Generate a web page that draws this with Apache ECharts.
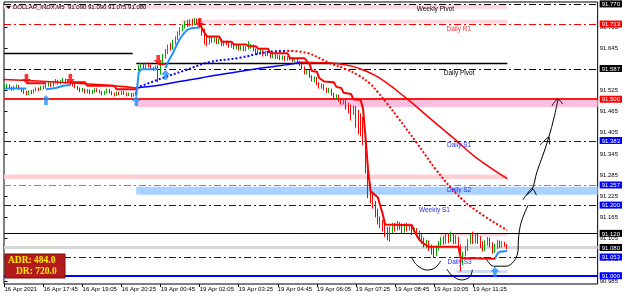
<!DOCTYPE html>
<html><head><meta charset="utf-8">
<script src="https://cdn.jsdelivr.net/npm/echarts@6/dist/echarts.min.js"></script>
<style>html,body{margin:0;padding:0;background:#fff}#c{width:625px;height:298px}</style>
</head><body><div id="c"></div>
<script>
// ---------------- DATA ----------------
const timeLabels = ['16 Apr 2021','16 Apr 17:45','16 Apr 19:05','16 Apr 20:25','19 Apr 00:45','19 Apr 02:05','19 Apr 03:25','19 Apr 04:45','19 Apr 06:05','19 Apr 07:25','19 Apr 08:45','19 Apr 10:05','19 Apr 11:25'];
const timeLabelBars = [0,16,32,48,64,80,96,112,128,144,160,176,192];
const priceTicks = [90.985,91.045,91.105,91.165,91.225,91.285,91.345,91.405,91.465,91.525,91.585,91.645,91.705];
const headerText = 'DOLLAR_INDX,M5  91.090 91.090 91.075 91.080';
const adrText = ['ADR: 484.0','DR: 720.0'];

// candles: [open, close, low, high], one per 5-minute bar
const candles = [
[91.532,91.535,91.528,91.540],[91.535,91.540,91.531,91.544],[91.540,91.532,91.529,91.542],[91.532,91.528,91.524,91.536],
[91.528,91.535,91.525,91.538],[91.535,91.538,91.530,91.542],[91.538,91.530,91.527,91.540],[91.530,91.525,91.520,91.533],
[91.525,91.520,91.515,91.528],[91.520,91.515,91.511,91.524],[91.515,91.522,91.512,91.525],[91.522,91.518,91.514,91.526],
[91.518,91.525,91.516,91.529],[91.525,91.530,91.522,91.534],[91.530,91.527,91.523,91.533],[91.527,91.535,91.525,91.538],
[91.535,91.532,91.528,91.539],[91.532,91.540,91.530,91.544],[91.540,91.545,91.536,91.549],[91.545,91.538,91.535,91.548],
[91.538,91.548,91.536,91.552],[91.548,91.552,91.544,91.557],[91.552,91.545,91.541,91.555],[91.545,91.550,91.542,91.554],
[91.550,91.555,91.546,91.560],[91.555,91.548,91.544,91.558],[91.548,91.552,91.545,91.556],[91.552,91.545,91.540,91.554],
[91.545,91.540,91.536,91.548],[91.540,91.535,91.531,91.543],[91.535,91.530,91.526,91.538],[91.530,91.525,91.520,91.533],
[91.525,91.528,91.521,91.532],[91.528,91.520,91.516,91.530],[91.520,91.525,91.517,91.529],[91.525,91.518,91.514,91.528],
[91.518,91.522,91.515,91.526],[91.522,91.528,91.519,91.532],[91.528,91.524,91.520,91.531],[91.524,91.520,91.516,91.527],
[91.520,91.515,91.511,91.523],[91.515,91.520,91.512,91.524],[91.520,91.526,91.517,91.530],[91.526,91.520,91.516,91.529],
[91.520,91.515,91.511,91.523],[91.515,91.512,91.508,91.519],[91.512,91.518,91.509,91.522],[91.518,91.515,91.511,91.521],
[91.515,91.520,91.512,91.524],[91.520,91.516,91.512,91.523],[91.516,91.512,91.508,91.519],[91.512,91.515,91.509,91.519],
[91.515,91.510,91.506,91.518],[91.510,91.514,91.507,91.518],[91.514,91.518,91.510,91.522],
[91.585,91.592,91.580,91.597],[91.592,91.598,91.588,91.603],[91.598,91.590,91.586,91.602],[91.590,91.600,91.587,91.604],
[91.600,91.595,91.590,91.604],[91.595,91.588,91.584,91.599],[91.588,91.585,91.580,91.592],[91.585,91.592,91.582,91.596],
[91.592,91.575,91.548,91.596],[91.575,91.600,91.570,91.605],[91.600,91.620,91.595,91.628],[91.620,91.635,91.615,91.642],
[91.635,91.650,91.628,91.655],[91.650,91.645,91.638,91.660],[91.645,91.662,91.640,91.668],[91.662,91.672,91.655,91.678],
[91.672,91.685,91.668,91.692],[91.685,91.698,91.680,91.704],[91.698,91.705,91.692,91.712],[91.705,91.715,91.700,91.722],
[91.715,91.710,91.704,91.724],[91.710,91.720,91.706,91.727],[91.720,91.715,91.708,91.728],[91.715,91.722,91.710,91.730],
[91.722,91.718,91.712,91.728],[91.718,91.712,91.705,91.726],[91.712,91.695,91.680,91.716],[91.695,91.670,91.655,91.700],
[91.670,91.660,91.650,91.676],
[91.660,91.672,91.655,91.678],[91.672,91.665,91.660,91.679],[91.665,91.672,91.661,91.677],[91.672,91.660,91.656,91.675],
[91.660,91.668,91.656,91.672],[91.668,91.655,91.650,91.671],[91.655,91.662,91.651,91.666],[91.662,91.658,91.653,91.666],
[91.658,91.650,91.646,91.662],[91.650,91.655,91.646,91.659],[91.655,91.645,91.641,91.658],[91.645,91.650,91.641,91.654],
[91.650,91.642,91.638,91.653],[91.642,91.648,91.638,91.652],[91.648,91.640,91.636,91.651],[91.640,91.645,91.636,91.650],
[91.645,91.648,91.641,91.665],[91.648,91.652,91.643,91.657],[91.652,91.640,91.636,91.655],[91.640,91.635,91.630,91.644],
[91.635,91.630,91.626,91.639],[91.630,91.638,91.627,91.642],[91.638,91.625,91.621,91.641],[91.625,91.632,91.622,91.636],
[91.632,91.628,91.623,91.636],[91.628,91.620,91.616,91.631],[91.620,91.625,91.616,91.629],[91.625,91.618,91.614,91.628],
[91.618,91.622,91.614,91.626],[91.622,91.615,91.611,91.625],[91.615,91.620,91.611,91.624],[91.620,91.612,91.608,91.623],
[91.612,91.618,91.609,91.622],[91.618,91.615,91.610,91.621],[91.615,91.610,91.606,91.619],[91.610,91.612,91.606,91.616],
[91.612,91.605,91.600,91.615],[91.605,91.598,91.593,91.608],[91.598,91.590,91.585,91.601],[91.590,91.575,91.570,91.593],
[91.575,91.580,91.570,91.585],[91.580,91.565,91.560,91.583],[91.565,91.555,91.550,91.568],[91.555,91.560,91.548,91.565],
[91.560,91.545,91.540,91.563],[91.545,91.535,91.530,91.548],[91.535,91.540,91.530,91.545],[91.540,91.530,91.525,91.543],
[91.530,91.522,91.518,91.533],[91.522,91.528,91.518,91.532],[91.528,91.515,91.510,91.530],[91.515,91.505,91.500,91.518],
[91.505,91.510,91.500,91.514],[91.510,91.498,91.493,91.513],[91.498,91.490,91.485,91.501],[91.490,91.495,91.485,91.499],
[91.495,91.485,91.470,91.500],[91.485,91.478,91.460,91.490],[91.478,91.470,91.440,91.485],[91.470,91.475,91.455,91.482],
[91.475,91.455,91.420,91.480],[91.455,91.445,91.400,91.470],[91.445,91.440,91.395,91.460],[91.440,91.380,91.370,91.450],
[91.380,91.300,91.290,91.390],[91.300,91.240,91.220,91.310],[91.240,91.225,91.205,91.262],[91.225,91.205,91.190,91.235],
[91.205,91.180,91.165,91.212],[91.180,91.160,91.145,91.190],[91.160,91.150,91.135,91.168],[91.150,91.140,91.125,91.158],
[91.140,91.130,91.110,91.150],[91.130,91.120,91.100,91.138],[91.120,91.130,91.096,91.140],[91.130,91.140,91.120,91.150],
[91.140,91.135,91.125,91.150],[91.135,91.145,91.128,91.155],[91.145,91.140,91.130,91.152],[91.140,91.130,91.120,91.148],
[91.130,91.140,91.122,91.148],[91.140,91.135,91.125,91.150],[91.135,91.140,91.128,91.148],[91.140,91.125,91.115,91.145],
[91.125,91.130,91.118,91.136],[91.130,91.120,91.110,91.135],
[91.120,91.110,91.100,91.128],[91.110,91.100,91.090,91.118],[91.100,91.090,91.080,91.108],[91.090,91.095,91.078,91.102],
[91.095,91.080,91.070,91.100],[91.080,91.070,91.060,91.088],[91.070,91.060,91.050,91.078],[91.060,91.078,91.055,91.085],
[91.078,91.090,91.072,91.098],[91.090,91.100,91.085,91.110],[91.100,91.095,91.088,91.112],[91.095,91.108,91.090,91.118],
[91.108,91.100,91.092,91.120],[91.100,91.110,91.095,91.125],[91.110,91.098,91.090,91.118],[91.098,91.105,91.090,91.115],
[91.105,91.085,91.078,91.110],[91.085,91.040,91.012,91.088],[91.040,91.060,91.030,91.068],[91.060,91.075,91.055,91.085],
[91.075,91.095,91.070,91.105],[91.095,91.105,91.090,91.118],[91.105,91.098,91.090,91.125],[91.098,91.110,91.092,91.120],
[91.110,91.100,91.090,91.118],[91.100,91.085,91.078,91.112],[91.085,91.075,91.068,91.098],[91.075,91.090,91.070,91.100],
[91.090,91.102,91.085,91.110],[91.102,91.088,91.080,91.108],[91.088,91.070,91.062,91.095],[91.070,91.082,91.065,91.090],
[91.082,91.095,91.076,91.102],[91.095,91.085,91.078,91.100],[91.085,91.092,91.080,91.098],[91.092,91.090,91.082,91.096],
[91.090,91.080,91.075,91.090]
];

// trend line (step indicator), [bar, price]; null breaks the line
const trendUp = [[0,91.530],[9,91.530],null,[17,91.528],[21,91.532],[24,91.538],[27,91.540],null,
 [54,91.508],[55,91.575],[56,91.585],[63,91.585],null,
 [66,91.588],[67,91.605],[68,91.618],[69,91.630],[70,91.645],[71,91.660],[72,91.672],[73,91.682],[74,91.690],[75,91.697],[77,91.702],[80,91.703],null,
 [201,91.048],[202,91.062],[203,91.068],[206,91.070]];
const trendDown = [[9,91.545],[17,91.545],null,
 [27,91.548],[33,91.548],[34,91.538],[45,91.538],[46,91.528],[54,91.528],null,
 [63,91.600],[66,91.600],null,
 [80,91.715],[81,91.700],[82,91.688],[83,91.678],[88,91.678],[89,91.663],[93,91.663],[94,91.655],[99,91.655],[100,91.650],[103,91.650],
 [104,91.643],[108,91.643],[109,91.630],[116,91.630],[117,91.616],[123,91.616],[124,91.607],[125,91.600],[126,91.580],[128,91.578],
 [129,91.560],[131,91.550],[135,91.548],[136,91.535],[138,91.532],[139,91.518],[142,91.515],[143,91.500],[146,91.498],[147,91.470],
 [148,91.390],[149,91.300],[150,91.240],[153,91.222],[155,91.175],[156,91.145],[167,91.143],[168,91.125],[170,91.102],[172,91.090],
 [174,91.082],[186,91.082],[187,91.050],[201,91.048]];

// moving averages, [bar, price]
const maSlowDown1 = [[-1,91.556],[15,91.551],[30,91.545],[45,91.538],[54,91.532]];
const maSlowUp = [[54,91.532],[62,91.538],[70,91.548],[78,91.557],[84,91.565],[95,91.577],[107,91.590],[116,91.598],[121,91.605]];
const maSlowDown2 = [[121,91.605],[132,91.603],[140,91.597],[145,91.588],[153,91.563],[165,91.501],[175,91.442],[185,91.384],[193,91.336],[206,91.275]];
const maFastUp = [[54,91.532],[64,91.558],[74,91.582],[84,91.605],[96,91.617],[108,91.634],[116,91.637]];
const maFastDown = [[116,91.637],[124,91.631],[134,91.600],[140,91.585],[145,91.568],[150,91.543],[153,91.520],[157,91.486],[161,91.450],[169,91.376],[177,91.299],[185,91.234],[193,91.186],[206,91.129]];

// signal arrows [bar, price]
const arrowsDown = [[9,91.557],[27,91.557],[63,91.611],[80,91.716]];
const arrowsUp = [[17,91.498],[54,91.495],[66,91.569],[201,91.011]];

// horizontal levels: price, from bar, to bar (null = chart edge)
const levelPrices = [91.770,91.713,91.631,91.603,91.587,91.500,91.383,91.257,91.200,91.120,91.080,91.053,91.000];
const levelFrom   = [null,null,null,54,null,null,null,null,null,null,null,null,null];
const levelTo     = [null,null,52.5,206.1,null,null,null,null,null,null,null,null,null];
const levelNames  = ['Weekly Pivot','Daily R1','','','Daily Pivot','','Daily S1','Daily S2','Weekly S1','','','Daily S3',''];
const levelNameBar= [176.6,186.2,0,0,186.3,0,186.3,186.3,176.2,0,0,186.5,0];
// price boxes on the axis
const boxPrices = [91.770,91.713,91.587,91.500,91.383,91.257,91.200,91.120,91.080,91.053,91.000];

// zones: [fromBar, toBar(null=edge), lowPrice, highPrice]
const zones = [
 [-1,206.1,91.756,91.768],
 [72.6,206.1,91.715,91.725],
 [54,null,91.478,91.498],
 [-1,206.1,91.274,91.287],
 [54,null,91.229,91.252],
 [178.4,206.1,91.112,91.121],
 [185.3,206.1,91.008,91.016]
];

// hand drawn strokes [bar, price]
const drawings = [
 [[167.0,91.050],[169.0,91.030],[173.1,91.016],[176.4,91.022],[178.8,91.042]],
 [[181.2,91.019],[183.7,90.999],[187.3,90.988],[190.6,90.996],[191.8,91.017]],
 [[197.5,91.047],[200.4,91.027],[205.7,91.027],[208.9,91.042],[210.5,91.073],[210.6,91.101],[211.8,91.152],[214.6,91.200]],
 [[212.5,91.215],[213.8,91.228],[216.2,91.243],[218.2,91.294],[220.7,91.342],[223.1,91.393],[225.2,91.447],[226.8,91.498]],
 [[214.0,91.228],[216.2,91.247],[218.0,91.228]],
 [[219.5,91.370],[223.1,91.393],[223.4,91.372]],
 [[224.4,91.481],[226.8,91.500],[228.8,91.486]]
];

// ---------------- STYLE ----------------
const X_MIN = -0.2, X_MAX = 243.1, Y_MIN = 90.9765, Y_MAX = 91.7754;
const FONT = '"Liberation Sans", Arial, sans-serif';
const DASHDOT = [7,3,2,3];
const levelStyles = [
 {c:'#000000',w:1,d:DASHDOT},{c:'#ff0000',w:1,d:DASHDOT},{c:'#000000',w:1.5,d:null},{c:'#000000',w:1.5,d:null},
 {c:'#000000',w:1,d:DASHDOT},{c:'#ff1a1a',w:2,d:null},{c:'#0000ff',w:1,d:DASHDOT},{c:'#7a7aff',w:1,d:DASHDOT},
 {c:'#0000ff',w:1,d:DASHDOT},{c:'#000000',w:1,d:null},{c:'#d6d6d6',w:3,d:null},{c:'#0000ff',w:1,d:DASHDOT},{c:'#0000ff',w:2,d:null}
];
const levelTextColors = ['#000','#ff3030','','','#000','','#2a2aff','#2a2aff','#2a2aff','','','#2a2aff',''];
const boxKinds = ['k','r','k','r','b','b','b','k','k','b','b'];
const zoneColors = ['#ffd6dc','#ffd6dc','#ffbfe0','#ffcfd6','#a8d2ff','#ffd6dc','#cfdcf2'];

const chart = echarts.init(document.getElementById('c'), null, {renderer:'canvas'});

function lineSeries(data, color, width, dash, z, smooth){
  return {type:'line', data:data.map(p=>p?p:[null,null]), showSymbol:false, symbol:'none', smooth:smooth||0,
    connectNulls:false, z:z, animation:false, clip:true,
    lineStyle:{color:color, width:width, type:dash||'solid', cap:'butt'}};
}

const candleData = candles.map((r,i)=>[i,r[0],r[1],r[2],r[3]]);

const rich = {
  k:{backgroundColor:'#000',color:'#fff',padding:[1,2,0,2],fontSize:6,fontFamily:FONT,lineHeight:8},
  r:{backgroundColor:'#ff0000',color:'#fff',padding:[1,2,0,2],fontSize:6,fontFamily:FONT,lineHeight:8},
  b:{backgroundColor:'#0000ff',color:'#fff',padding:[1,2,0,2],fontSize:6,fontFamily:FONT,lineHeight:8}
};

const series = [
  {type:'custom', z:1, animation:false, clip:true, data:zones.map(z=>[z[0], z[1]==null?X_MAX:z[1], z[2], z[3]]),
   renderItem:(p,api)=>{
     const a=api.coord([api.value(0),api.value(3)]), b=api.coord([api.value(1),api.value(2)]);
     return {type:'rect', shape:{x:a[0],y:a[1],width:b[0]-a[0],height:b[1]-a[1]}, style:{fill:zoneColors[p.dataIndex]}};
   }},
  {type:'custom', z:2, animation:false, clip:true,
   data:levelPrices.map((v,i)=>[levelFrom[i]==null?X_MIN:levelFrom[i], levelTo[i]==null?X_MAX:levelTo[i], v]),
   renderItem:(p,api)=>{
     const s=levelStyles[p.dataIndex];
     const a=api.coord([api.value(0),api.value(2)]), b=api.coord([api.value(1),api.value(2)]);
     const y=Math.round(a[1])+(s.w%2?0.5:0);
     return {type:'line', shape:{x1:a[0],y1:y,x2:b[0],y2:y}, style:{stroke:s.c,lineWidth:s.w,lineDash:s.d||null}};
   }},
  {type:'custom', z:6, animation:false,
   data:levelPrices.map((v,i)=>[levelNameBar[i], v]),
   renderItem:(p,api)=>{
     const t=levelNames[p.dataIndex]; if(!t) return null;
     const a=api.coord([api.value(0),api.value(1)]);
     return {type:'text', x:a[0], y:a[1]+1.5, style:{text:t, fill:levelTextColors[p.dataIndex], font:'6.5px '+FONT, align:'center', verticalAlign:'top'}};
   }},
  {type:'candlestick', z:3, animation:false, data:candleData, dimensions:['t','open','close','lowest','highest'],
   encode:{x:0,y:[1,2,3,4]}, barWidth:1,
   itemStyle:{color:'#00a800',color0:'#ff0000',borderColor:'#00a800',borderColor0:'#ff0000',borderWidth:1}},
  lineSeries(maSlowDown1,'#ff0000',1.5,null,4,0.4),
  lineSeries(maSlowUp,'#0000ff',1.5,null,4,0.4),
  lineSeries(maSlowDown2,'#ff0000',1.5,null,4,0.4),
  lineSeries(maFastUp,'#0000ff',2,[2,2],4,0.4),
  lineSeries(maFastDown,'#ff0000',2,[2,2],4,0.4),
  lineSeries(trendUp,'#1e90ff',2,null,5,0),
  lineSeries(trendDown,'#ff0000',2,null,5,0)
];
drawings.forEach(d=>series.push(lineSeries(d,'#000000',1,null,7,0.35)));
series.push({type:'scatter', z:8, animation:false, data:arrowsDown, symbol:'path://M3,0H7V5H10L5,10L0,5H3Z', symbolSize:[9,10], itemStyle:{color:'#ff0000'}});
series.push({type:'scatter', z:8, animation:false, data:arrowsUp, symbol:'path://M5,0L10,5H7V10H3V5H0Z', symbolSize:[9,10], itemStyle:{color:'#1e90ff'}});

chart.setOption({
  backgroundColor:'#ffffff',
  animation:false,
  grid:{left:4,right:23,top:2,bottom:14,show:true,borderColor:'#000',borderWidth:1,backgroundColor:'transparent'},
  xAxis:{type:'value',min:X_MIN,max:X_MAX,splitLine:{show:false},axisLine:{show:false},
    axisTick:{show:true,customValues:timeLabelBars,length:3,lineStyle:{color:'#000'}},
    axisLabel:{customValues:timeLabelBars,fontSize:6,fontFamily:FONT,color:'#000',align:'left',margin:2,
      formatter:v=>{const i=timeLabelBars.indexOf(Math.round(v));return i>=0?timeLabels[i]:'';}}},
  yAxis:{type:'value',position:'right',min:Y_MIN,max:Y_MAX,splitLine:{show:false},axisLine:{show:false},
    axisTick:{show:true,customValues:priceTicks,length:3,lineStyle:{color:'#000'}},
    axisLabel:{customValues:priceTicks.concat(boxPrices),fontSize:6,fontFamily:FONT,color:'#000',margin:2,rich:rich,
      formatter:v=>{
        const i=boxPrices.findIndex(b=>Math.abs(b-v)<1e-7);
        const s=v.toFixed(3);
        return i>=0?('{'+boxKinds[i]+'|'+s+'}'):s;
      }}},
  series:series,
  graphic:[
    {type:'polygon',shape:{points:[[6,6],[11,6],[8.5,9]]},style:{fill:'#000'},z:20},
    {type:'text',x:13,y:4,style:{text:headerText,font:'6px '+FONT,fill:'#000'},z:20},
    {type:'rect',shape:{x:5,y:254,width:60,height:24},style:{fill:'#b31b1b',stroke:'#7d0b0b',lineWidth:1},z:20},
    {type:'text',x:8,y:256,style:{text:adrText[0],font:'bold 9.5px "Liberation Serif", serif',fill:'#ffee00'},z:21},
    {type:'text',x:16,y:266.5,style:{text:adrText[1],font:'bold 9.5px "Liberation Serif", serif',fill:'#ffee00'},z:21}
  ]
});
</script></body></html>
